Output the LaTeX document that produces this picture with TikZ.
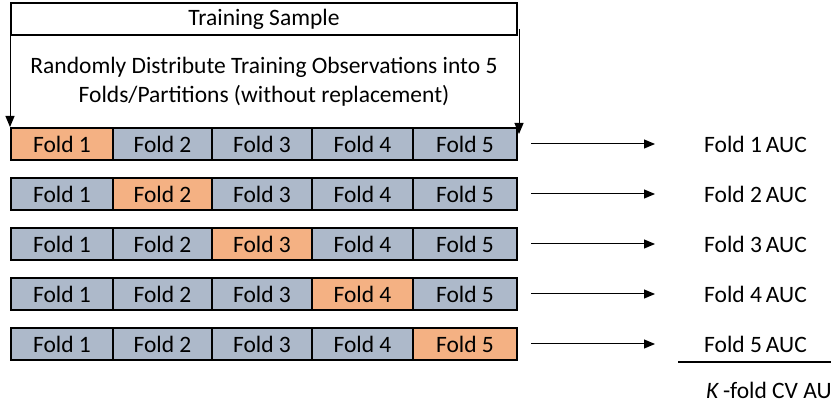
\documentclass[tikz,border=0pt]{standalone}
\usepackage{fontspec}
\setmainfont{Carlito}
\usetikzlibrary{arrows.meta}
\definecolor{foldgrey}{HTML}{ADB9CA}
\definecolor{foldtest}{HTML}{F4B183}
\tikzset{
  txt/.style={font=\fontsize{23.5}{28}\selectfont, inner sep=0pt},
  cell/.style={txt, draw=black, line width=2pt, minimum height=32pt, fill=foldgrey},
  testcell/.style={cell, fill=foldtest},
  arr/.style={line width=1pt, -{Triangle[length=11pt,width=9pt]}},
}
\begin{document}
\begin{tikzpicture}[x=1pt,y=-1pt]
  \useasboundingbox (0,0) rectangle (831,406);
  \clip (0,0) rectangle (831,406);

  % top box and the description under it
  \node[txt, draw=black, line width=2pt, minimum width=506pt, minimum height=32pt]
    (sample) at (264,19) {Training Sample};
  \node[txt, align=center] (desc) at (264,82)
    {Randomly Distribute Training Observations into 5\\[1pt]Folds/Partitions (without replacement)};

  % five rows of five folds; the held-out fold is highlighted
  \foreach \r [evaluate=\r as \yy using {144+50*(\r-1)}] in {1,...,5} {
    \foreach \c/\xl/\xr in {1/11/113, 2/113/212, 3/212/312, 4/312/413, 5/413/517} {
      \ifnum\c=\r
        \node[testcell, minimum width={\xr-\xl}] (r\r c\c) at ({(\xl+\xr)/2},\yy) {Fold \c};
      \else
        \node[cell, minimum width={\xr-\xl}] (r\r c\c) at ({(\xl+\xr)/2},\yy) {Fold \c};
      \fi
    }
    \node[txt, anchor=west] (auc\r) at (704,\yy) {Fold \r\,AUC};
    \draw[arr] ([xshift=13pt]r\r c5.east) -- ([xshift=-49pt]auc\r.west);
  }

  % arrows from the sample down to the folds
  \draw[arr] ([yshift=7pt]sample.south west) -- (r1c1.north west);
  \draw[arr] ([yshift=7pt,xshift=1pt]sample.south east) -- ([yshift=-7pt,xshift=1pt]r1c5.north east);

  % rule under the last AUC and the averaged result
  \coordinate (ruleL) at (678,362);
  \coordinate (ruleR) at (845,362);
  \draw[line width=2pt] (ruleL) -- (ruleR);
  \node[txt, anchor=west] (cvauc) at (706,390) {\textit{K}\,-fold CV AUC};
\end{tikzpicture}
\end{document}
